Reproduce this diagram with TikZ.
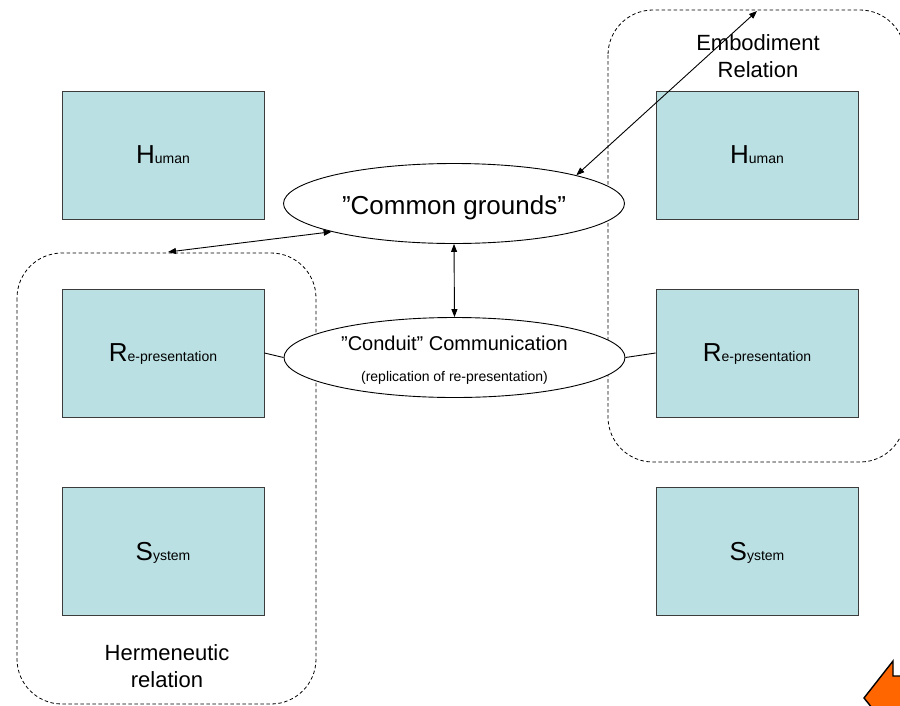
\documentclass[tikz,border=0pt]{standalone}
\usepackage{fontspec}
\setmainfont{Liberation Sans}
\usetikzlibrary{shapes.geometric,arrows.meta}
\definecolor{boxfill}{RGB}{187,224,227}
\definecolor{boxline}{RGB}{60,60,60}
\definecolor{navorange}{RGB}{255,102,0}
\newcommand{\bigsmall}[2]{{\fontsize{26}{26}\selectfont #1}{\fontsize{14}{14}\selectfont #2}}
\begin{document}
\begin{tikzpicture}[x=1pt,y=-1pt,
  block/.style={draw=boxline, line width=0.9pt, fill=boxfill,
    minimum width=202pt, minimum height=128pt, inner sep=0pt, text depth=0pt},
  oval/.style={ellipse, draw, line width=0.9pt, fill=white,
    minimum width=341pt, minimum height=80pt, inner sep=0pt},
  frame/.style={line width=0.8pt, dash pattern=on 3.5pt off 2.5pt, rounded corners=45pt},
  link/.style={line width=0.9pt},
  twoway/.style={line width=0.9pt, {Triangle[length=8pt,width=6pt]}-{Triangle[length=8pt,width=6pt]}},
  lbl/.style={inner sep=0pt, anchor=base}
]
\useasboundingbox (0,0) rectangle (900,705);
\clip (0,0) rectangle (900,705);

% grouping frames
\draw[frame] (17,253) rectangle (316,704);
\draw[frame] (608,10) rectangle (905,462);
\coordinate (hermTop) at (168,252);
\coordinate (embTop) at (757,11);

% left column
\node[block] (humL) at (163,155) {\bigsmall{H}{uman}};
\node[block] (repL) at (163,353) {\bigsmall{R}{e-presentation}};
\node[block] (sysL) at (163,551) {\bigsmall{S}{ystem}};

% right column
\node[block] (humR) at (757,155) {\bigsmall{H}{uman}};
\node[block] (repR) at (757,353) {\bigsmall{R}{e-presentation}};
\node[block] (sysR) at (757,551) {\bigsmall{S}{ystem}};

% central ellipses
\node[oval] (common) at (454,203.5) {};
\node[oval] (conduit) at (454.5,357.5) {};
\node[lbl, font=\fontsize{26}{26}\selectfont] (commonTxt) at (454,214) {”Common grounds”};
\node[lbl, font=\fontsize{20}{20}\selectfont] (conduitTxt) at (454.5,350) {”Conduit” Communication};
\node[lbl, font=\fontsize{14}{14}\selectfont] (conduitSub) at (454.5,381) {(replication of re-presentation)};

% frame captions
\node[lbl, font=\fontsize{22}{22}\selectfont] (embA) at (758,50) {Embodiment};
\node[lbl, font=\fontsize{22}{22}\selectfont] (embB) at (758,77) {Relation};
\node[lbl, font=\fontsize{22}{22}\selectfont] (hermA) at (167,660) {Hermeneutic};
\node[lbl, font=\fontsize{22}{22}\selectfont] (hermB) at (167,687) {relation};

% connectors
\draw[twoway] (common.13) -- (embTop);
\draw[twoway] (common.193) -- (hermTop);
\draw[twoway] (common.south) -- (conduit.north);
\draw[link] (repL.east) -- (conduit.west);
\draw[link] (conduit.east) -- (repR.west);

% navigation button in the corner
\draw[line width=1.4pt, fill=navorange, line join=miter]
  (893,661) -- (893,676) -- (915,676) -- (915,730) -- (890,730) -- (864,698) -- cycle;
\end{tikzpicture}
\end{document}
